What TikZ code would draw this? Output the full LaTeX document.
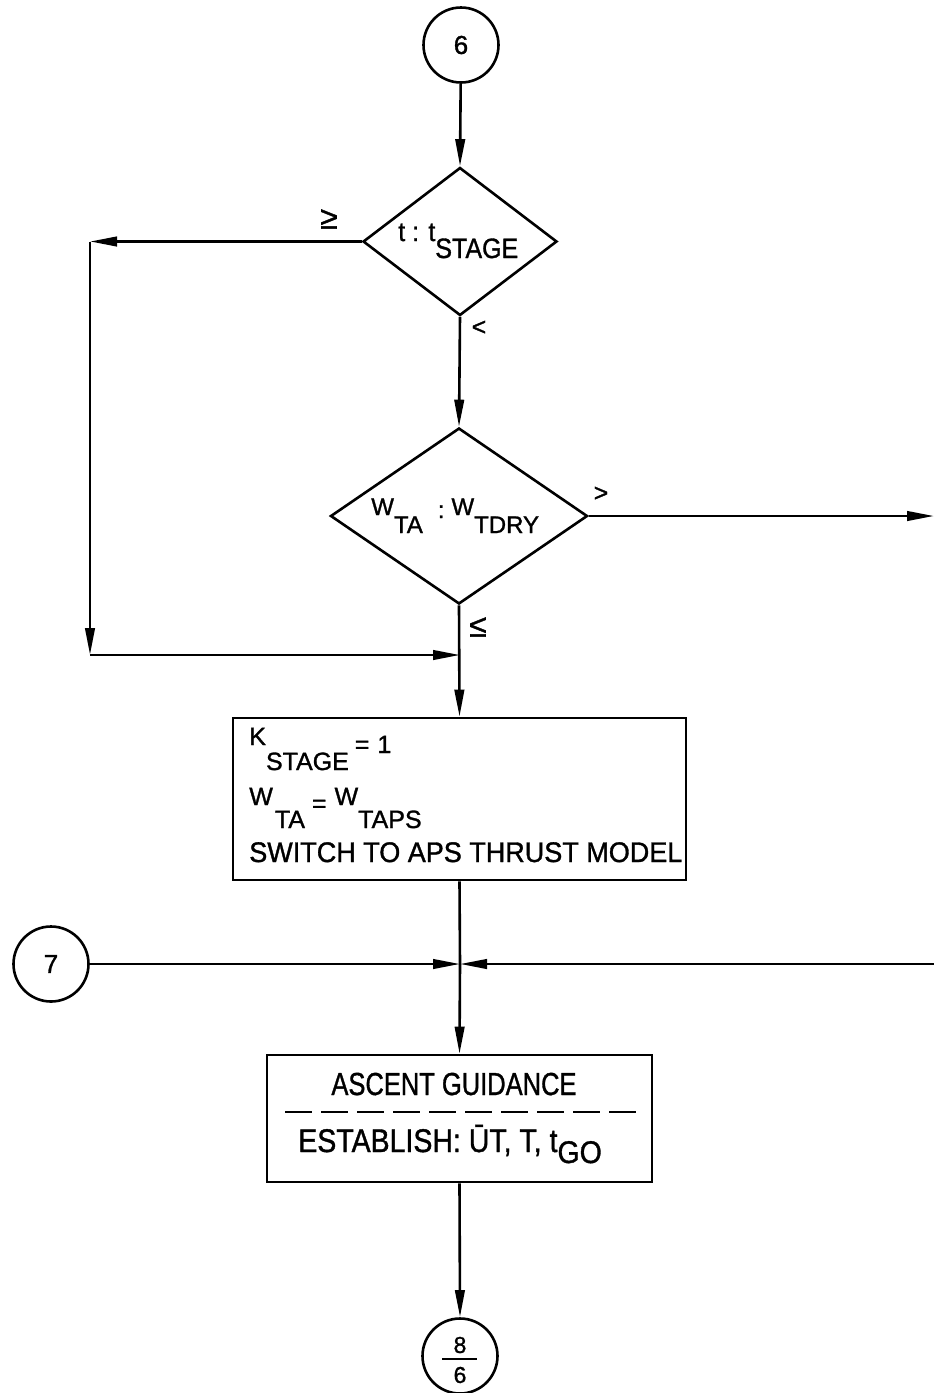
\documentclass[tikz,border=0pt]{standalone}
\usepackage{fontspec}
\setmainfont{Liberation Sans}[FakeBold=1.2]
\usetikzlibrary{shapes.geometric,arrows.meta}
\newcommand{\fsz}[1]{\fontsize{#1}{#1}\selectfont}
\newcommand{\vsc}[2]{\scalebox{1}[#1]{#2}}
\begin{document}
\begin{tikzpicture}[x=1pt,y=-1pt,line width=2.6pt,
  arr/.style={-{Triangle[length=27pt,width=9.5pt]}},
  conn/.style={circle,draw,minimum size=75pt,inner sep=0pt,font=\fsz{26}},
  dec/.style={diamond,draw,inner sep=0pt},
  procbox/.style={rectangle,draw,inner sep=0pt},
  txt/.style={inner sep=0pt},
  lbl/.style={inner sep=0pt,font=\fsz{25}}]
\useasboundingbox (0,0) rectangle (934,1393);
% connectors (circles)
\node[conn] (c6) at (461,45) {6};
\node[conn] (c7) at (51,964) {7};
\node[conn] (c8) at (460,1356) {};
\node[txt,font=\fsz{23}] (n8) at (460,1345) {8};
\node[txt,font=\fsz{23}] (n6) at (460,1375) {6};
\coordinate (fl1) at (442,1359);
\coordinate (fl2) at (477,1359);
\draw[line width=2.2pt] (fl1) -- (fl2);
% decisions
\node[dec,minimum width=194pt,minimum height=148pt,aspect=1.31] (d1) at (460,241.5) {};
\node[txt,anchor=base west,font=\fsz{25}] (d1t) at (397,258) {\raisebox{17pt}{\vsc{1.08}{t : t}}\vsc{1.12}{STAGE}};
\node[dec,minimum width=257pt,minimum height=176pt,aspect=1.46] (d2) at (459,516) {};
\node[txt,anchor=base west,font=\fsz{24}] (d2t) at (370,533) {\raisebox{18pt}{W}TA\hspace{15pt}\raisebox{15pt}{:}\hspace{7pt}\raisebox{18pt}{W}TDRY};
% boxes
\node[procbox,minimum width=453pt,minimum height=162pt] (box1) at (459.5,799) {};
\node[txt,anchor=base west,font=\fsz{25}] (b1l1) at (248,770) {\raisebox{25pt}{K}STAGE\hspace{6pt}\raisebox{17pt}{=\hspace{8pt}1}};
\node[txt,anchor=base west,font=\fsz{25}] (b1l2) at (248,828) {\raisebox{23pt}{W}\hspace{2pt}TA\hspace{7pt}\raisebox{16pt}{=}\hspace{8pt}\raisebox{23pt}{W}TAPS};
\node[txt,anchor=base west,font=\fsz{27}] (b1l3) at (248,862) {\vsc{1.05}{SWITCH TO APS THRUST MODEL}};
\node[procbox,minimum width=385pt,minimum height=127pt] (box2) at (459.5,1118.5) {};
\node[txt,anchor=base,font=\fsz{25.5}] (b2l1) at (454,1095) {\vsc{1.25}{ASCENT GUIDANCE}};
\coordinate (dl1) at (285,1112);
\coordinate (dl2) at (637,1112);
\draw[line width=2pt,dash pattern=on 27pt off 9pt] (dl1) -- (dl2);
\node[txt,anchor=base west,font=\fsz{28.5}] (b2l2) at (297,1152) {\vsc{1.15}{ESTABLISH: ŪT, T, t}\raisebox{-11pt}{\vsc{1.1}{GO}}};
% labels
\node[lbl,font=\fsz{32}] (lge) at (329,219) {≥};
\node[lbl] (llt) at (479,328) {<};
\node[lbl] (lgt) at (601,494) {>};
\node[lbl,font=\fsz{32}] (lle) at (478,627) {≤};
% routing points
\coordinate (L1) at (90,241.5);
\coordinate (L2) at (90,655);
\coordinate (J1) at (460,655);
\coordinate (R1) at (934,516);
\coordinate (J2) at (460,964);
\coordinate (R2) at (934,964);
% connectors
\draw[arr] (c6) -- (d1.north);
\draw[arr] (d1.west) -- (L1);
\draw[arr] (L1) -- (L2);
\draw[arr] (L2) -- (J1);
\draw[arr] (d1.south) -- (d2.north);
\draw[arr] (d2.east) -- (R1);
\draw[arr] (d2.south) -- (box1.north);
\draw (box1.south) -- (J2);
\draw[arr] (c7.east) -- (J2);
\draw[arr] (R2) -- (J2);
\draw[arr] (J2) -- (box2.north);
\draw[arr] (box2.south) -- (c8.north);
\end{tikzpicture}
\end{document}
